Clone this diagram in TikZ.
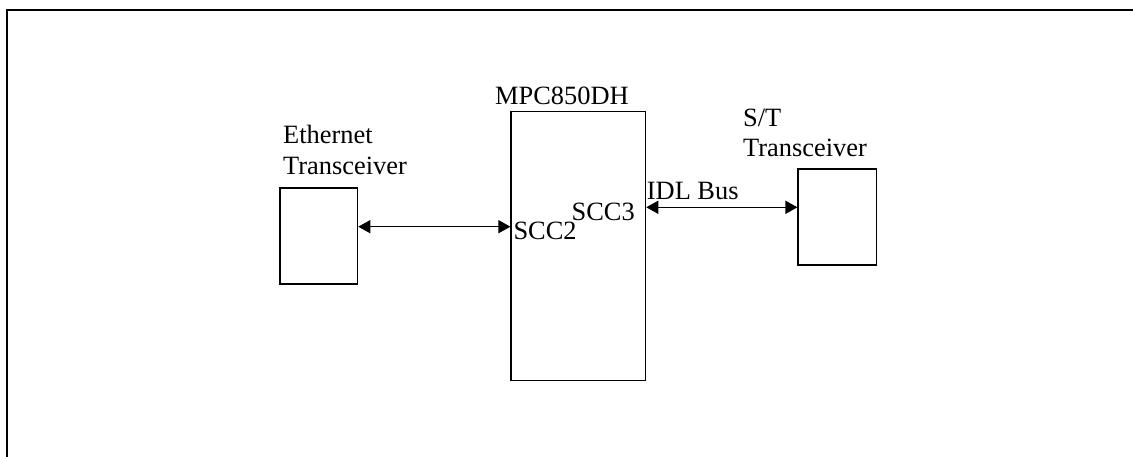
\documentclass[tikz,border=0pt]{standalone}
\usepackage{fontspec}
\setmainfont{Liberation Serif}
\usetikzlibrary{arrows.meta}
\begin{document}
\begin{tikzpicture}[x=1pt,y=-1pt,
  blk/.style={draw,line width=1.1pt,minimum width=#1,inner sep=0pt},
  lbl/.style={inner sep=0pt,font=\fontsize{26.4}{31}\selectfont,align=left},
  link/.style={line width=1.2pt,{Triangle[length=12pt,width=13pt]}-{Triangle[length=12pt,width=13pt]}}]
\useasboundingbox (0,0) rectangle (1133,457);
\draw[line width=1.8pt] (7,457) -- (7,10) -- (1133,10);
\node[blk=77.7pt,minimum height=96pt] (eth) at (318.85,236) {};
\node[blk=134.7pt,minimum height=269pt] (mpc) at (578.35,246.2) {};
\node[blk=78.7pt,minimum height=96pt] (st) at (837.35,217) {};
\node[lbl,anchor=base west] (ethl) at (283,143.3) {Ethernet};
\node[lbl,anchor=base west] (ethl2) at (283,175) {Transceiver};
\node[lbl,anchor=base west] (stl) at (743,126.7) {S/T};
\node[lbl,anchor=base west] (stl2) at (743,156.7) {Transceiver};
\node[lbl,anchor=base west] (mpcl) at (495,105) {MPC850DH};
\node[lbl,anchor=base west] (scc2) at (513.3,240) {SCC2};
\node[lbl,anchor=base west] (scc3) at (571.5,221) {SCC3};
\node[lbl,anchor=base west] (idl) at (646.7,200) {IDL Bus};
\draw[link] (eth.east |- 0,226.7) -- (mpc.west |- 0,226.7);
\draw[link] (mpc.east |- 0,207.3) -- (st.west |- 0,207.3);
\end{tikzpicture}
\end{document}
